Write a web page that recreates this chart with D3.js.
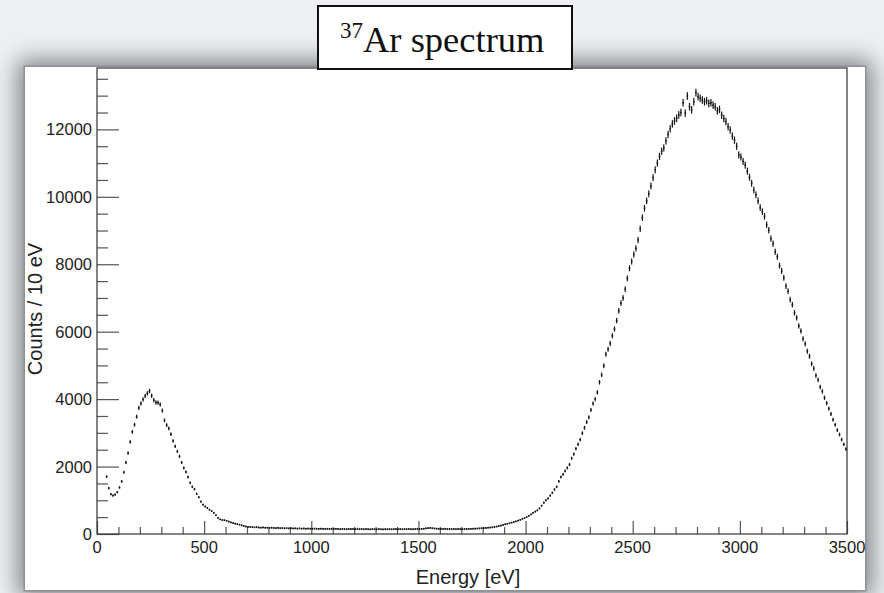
<!DOCTYPE html>
<html>
<head>
<meta charset="utf-8">
<script src="https://cdn.jsdelivr.net/npm/d3@7"></script>
<style>
  html, body { margin: 0; padding: 0; background: #eef0f3; overflow: hidden; }
  #wrap { position: relative; width: 884px; height: 593px; overflow: hidden; }
  #panel { position: absolute; left: 25px; top: 67px; width: 840px; height: 523px;
           background: #ffffff;
           box-shadow: 0 0 0 1.5px rgba(140,141,146,0.9), 0 0 22px 7px rgba(90,92,98,0.75); }
  svg { position: absolute; left: 0; top: 0; display: block; }
</style>
</head>
<body>
<div id="wrap">
<div id="panel"></div>
<svg id="chart" width="884" height="593"></svg>
</div>
<script>
// ---- data ----
const binStart = 45;      // centre of first bin [eV]
const binWidth = 10;      // eV per bin
const counts = [
  1700,1360,1180,1140,1170,1240,
  1380,1560,1830,2120,2400,2730,3030,3240,3480,3740,
  3870,3990,4090,4170,4240,4100,3970,3900,3895,3840,
  3660,3370,3230,3130,2960,2760,2600,2450,2300,2120,
  1960,1840,1690,1520,1400,1330,1190,1090,960,870,
  815,775,720,680,625,555,480,435,415,410,
  395,370,345,325,310,295,280,260,240,225,
  215,212,208,200,205,196,190,198,188,192,
  185,190,182,178,186,175,180,172,176,170,
  174,168,171,165,170,163,168,160,166,162,
  158,164,160,155,161,157,152,159,154,156,
  150,157,153,148,155,151,147,153,149,152,
  146,151,148,153,145,150,147,143,149,146,
  144,150,146,141,148,145,150,143,147,152,
  146,149,144,151,147,153,148,145,150,154,
  149,156,160,171,178,183,176,168,162,158,
  155,152,158,150,154,149,153,147,151,150,
  148,152,155,151,157,160,163,166,170,175,
  178,183,190,195,203,212,225,238,252,270,
  290,305,320,340,356,375,398,420,448,474,
  500,540,580,630,665,700,760,840,930,1000,
  1055,1140,1220,1320,1400,1560,1690,1770,1870,1960,
  2060,2245,2370,2530,2660,2800,2990,3150,3320,3460,
  3680,3870,4000,4200,4500,4720,4990,5330,5480,5650,
  5880,6080,6330,6620,6850,7000,7260,7580,7880,8080,
  8290,8470,8720,9050,9380,9660,9880,10090,10320,10570,
  10800,11000,11200,11350,11450,11660,11850,12020,12160,12250,
  12330,12430,12500,12790,12480,12990,12670,12580,12820,13090,
  12970,12920,12870,12820,12850,12770,12790,12720,12670,12550,
  12590,12420,12320,12230,12080,11980,11800,11680,11500,11240,
  11180,11050,10940,10760,10580,10400,10200,10060,9880,9680,
  9560,9420,9170,9010,8760,8610,8370,8220,7960,7800,
  7600,7350,7200,6950,6800,6560,6410,6170,6020,5790,
  5640,5420,5270,5050,4910,4700,4570,4360,4230,4040,
  3880,3720,3560,3390,3240,3080,2950,2800,2660,2520
];
const xTickValues = [0, 500, 1000, 1500, 2000, 2500, 3000, 3500];
const yTickValues = [0, 2000, 4000, 6000, 8000, 10000, 12000];
const xDomain = [0, 3500];
const yDomain = [0, 13820];
const titleSup = "37";
const titleMain = "Ar spectrum";
const xTitle = "Energy [eV]";
const yTitle = "Counts / 10 eV";

// ---- layout ----
const svg = d3.select("#chart");
const plot = {l: 97, r: 847, t: 68, b: 534};

const x = d3.scaleLinear().domain(xDomain).range([plot.l, plot.r]);
const y = d3.scaleLinear().domain(yDomain).range([plot.b, plot.t]);

const axisColor = "#333";
const tickColor = "#555";
const font = "'Liberation Sans', Arial, Helvetica, sans-serif";

// y ticks (inside, pointing right)
const yMinor = d3.range(0, yDomain[1], 500).filter(v => v % 2000 !== 0);
const yAxis = d3.axisRight(y).tickValues(yTickValues).tickSize(22).tickFormat("");
const gy = svg.append("g").attr("transform", `translate(${plot.l},0)`).call(yAxis);
const yAxisMinor = d3.axisRight(y).tickValues(yMinor).tickSize(11).tickFormat("");
const gym = svg.append("g").attr("transform", `translate(${plot.l},0)`).call(yAxisMinor);
[gy, gym].forEach(g => {
  g.select(".domain").remove();
  g.selectAll(".tick line").attr("stroke", tickColor).attr("stroke-width", 1.2);
});

// x ticks (inside, pointing up)
const xMinor = d3.range(100, 3500, 100).filter(v => v % 500 !== 0);
const xAxis = d3.axisTop(x).tickValues(xTickValues).tickSize(13).tickFormat("");
const gx = svg.append("g").attr("transform", `translate(0,${plot.b})`).call(xAxis);
const xAxisMinor = d3.axisTop(x).tickValues(xMinor).tickSize(7).tickFormat("");
const gxm = svg.append("g").attr("transform", `translate(0,${plot.b})`).call(xAxisMinor);
[gx, gxm].forEach(g => {
  g.select(".domain").remove();
  g.selectAll(".tick line").attr("stroke", tickColor).attr("stroke-width", 1.2);
});

// frame
svg.append("rect")
  .attr("x", plot.l).attr("y", plot.t)
  .attr("width", plot.r - plot.l).attr("height", plot.b - plot.t)
  .attr("fill", "none").attr("stroke", axisColor).attr("stroke-width", 1.2);

// tick labels
svg.append("g").selectAll("text").data(yTickValues).join("text")
  .attr("x", plot.l - 5).attr("y", d => y(d)).attr("dy", "0.36em")
  .attr("text-anchor", "end")
  .attr("font-family", font).attr("font-size", 16.5).attr("fill", "#222")
  .text(d => d);
svg.append("g").selectAll("text").data(xTickValues).join("text")
  .attr("x", d => x(d)).attr("y", plot.b + 19)
  .attr("text-anchor", "middle")
  .attr("font-family", font).attr("font-size", 16.5).attr("fill", "#222")
  .text(d => d);

// axis titles
svg.append("text")
  .attr("x", (plot.l + plot.r) / 2 - 4).attr("y", 584)
  .attr("text-anchor", "middle")
  .attr("font-family", font).attr("font-size", 20).attr("fill", "#222")
  .text(xTitle);
svg.append("text")
  .attr("transform", `translate(42,${(plot.t + plot.b) / 2 + 8}) rotate(-90)`)
  .attr("text-anchor", "middle")
  .attr("font-family", font).attr("font-size", 20).attr("fill", "#222")
  .text(yTitle);

// data points with error bars
const pts = counts.map((c, i) => ({e: binStart + i * binWidth, c: c}));
const gp = svg.append("g").attr("fill", "#151515");
gp.selectAll("rect.err").data(pts).join("rect")
  .attr("class", "err")
  .attr("x", d => x(d.e) - 0.6)
  .attr("width", 1.2)
  .attr("y", d => y(d.c + Math.sqrt(d.c)))
  .attr("height", d => Math.max(1.5, y(d.c - Math.sqrt(d.c)) - y(d.c + Math.sqrt(d.c))));
gp.selectAll("rect.mk").data(pts).join("rect")
  .attr("class", "mk")
  .attr("x", d => x(d.e) - 0.8)
  .attr("width", 1.6)
  .attr("y", d => y(d.c) - 0.75)
  .attr("height", 1.5);

// title box
svg.append("rect")
  .attr("x", 318).attr("y", 6).attr("width", 254).attr("height", 63)
  .attr("fill", "#fff").attr("stroke", "#111").attr("stroke-width", 2);
const t = svg.append("text")
  .attr("x", 340).attr("y", 52)
  .attr("font-family", "'Liberation Serif', 'Times New Roman', serif")
  .attr("fill", "#111");
t.append("tspan").attr("font-size", 23).attr("dy", -14).text(titleSup);
t.append("tspan").attr("font-size", 36.5).attr("dy", 14).text(titleMain);
</script>
</body>
</html>
